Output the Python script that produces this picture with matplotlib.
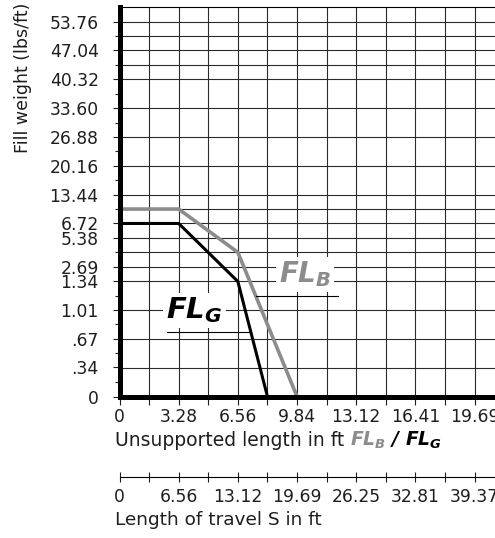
import numpy as np
import matplotlib
matplotlib.use("Agg")
import matplotlib.pyplot as plt

plt.rcParams["font.family"] = ["DejaVu Sans"]
plt.rcParams["mathtext.fontset"] = "custom"
plt.rcParams["mathtext.it"] = "DejaVu Sans:italic:bold"
plt.rcParams["mathtext.rm"] = "DejaVu Sans:italic:bold"
plt.rcParams["mathtext.bf"] = "DejaVu Sans:italic:bold"

# ---- data -------------------------------------------------------------
length_b = [0, 3.28, 6.56, 9.84]          # unsupported length (ft), FL_B
fill_b = [10.08, 10.08, 4.03, 0]          # fill weight (lbs/ft), FL_B
length_g = [0, 3.28, 6.56, 8.20]          # unsupported length (ft), FL_G
fill_g = [6.72, 6.72, 1.34, 0]            # fill weight (lbs/ft), FL_G

y_tick_values = [0, 0.34, 0.67, 1.01, 1.34, 2.69, 5.38, 6.72,
                 13.44, 20.16, 26.88, 33.60, 40.32, 47.04, 53.76]
y_tick_labels = ["0", ".34", ".67", "1.01", "1.34", "2.69", "5.38", "6.72",
                 "13.44", "20.16", "26.88", "33.60", "40.32", "47.04", "53.76"]
x_tick_labels = ["0", "3.28", "6.56", "9.84", "13.12", "16.41", "19.69"]
travel_tick_labels = ["0", "6.56", "13.12", "19.69", "26.25", "32.81", "39.37"]

GRAY = "#8c8c8c"
INK = "#1e1e1e"
FT_PER_M = 3.2808

# ---- piecewise-linear fill weight scale --------------------------------
scale_vals = np.array([0.0, 1.344, 6.72, 53.76, 57.12])
scale_rows = np.array([0.0, 8.0, 12.0, 26.0, 27.0])


def fwd(v):
    return np.interp(v, scale_vals, scale_rows)


def inv(r):
    return np.interp(r, scale_rows, scale_vals)


W, H = 495, 538
fig = plt.figure(figsize=(W / 100, H / 100), dpi=100)

x_max = 21.6
px_per_ft = 18.04
left_px, bottom_px, top_px = 119.5, 396.5, 7.2
ax = fig.add_axes([left_px / W, 1 - bottom_px / H,
                   x_max * px_per_ft / W, (bottom_px - top_px) / H])
ax.set_yscale("function", functions=(fwd, inv))
ax.set_xlim(0, x_max)
ax.set_ylim(0, 57.12)

# grid
grid_rows = [0, 2, 4, 6, 8, 9, 10, 11, 12, 13, 14, 16, 18, 20, 22, 23, 24, 25, 26]
for r in grid_rows:
    ax.axhline(inv(r), color="#2a2a2a", lw=0.8, zorder=1)
x_grid = np.arange(1, 14) * 0.5 * FT_PER_M
for xv in x_grid:
    ax.axvline(xv, color="#2a2a2a", lw=0.8, zorder=1)

# curves
ax.plot(length_b, fill_b, color=GRAY, lw=2.6, zorder=3, solid_joinstyle="miter")
ax.plot(length_g, fill_g, color="black", lw=2.2, zorder=3.1, solid_joinstyle="miter")

# curve labels with underline leaders
rows_b = fwd(np.array(fill_b))
rows_g = fwd(np.array(fill_g))
ub_row, ug_row = 7.0, 4.5
ub_x0 = np.interp(ub_row, rows_b[::-1], np.array(length_b)[::-1])
ug_x1 = np.interp(ug_row, rows_g[::-1], np.array(length_g)[::-1])
ax.plot([ub_x0, 12.1], [inv(ub_row)] * 2, color="black", lw=0.8, zorder=3)
ax.plot([2.63, ug_x1], [inv(ug_row)] * 2, color="black", lw=0.8, zorder=3)
ax.text(8.85, inv(7.9), r"$FL_B$", color=GRAY, fontsize=20, ha="left",
        va="baseline", zorder=4,
        bbox=dict(facecolor="white", edgecolor="none", pad=2))
ax.text(2.6, inv(5.4), r"$FL_G$", color="black", fontsize=21, ha="left",
        va="baseline", zorder=4,
        bbox=dict(facecolor="white", edgecolor="none", pad=2))

# spines
for s in ("left", "bottom"):
    ax.spines[s].set_linewidth(3.6)
    ax.spines[s].set_color("black")
    ax.spines[s].set_zorder(5)
ax.spines["top"].set_linewidth(0.8)
ax.spines["right"].set_visible(False)

# y ticks
ax.set_yticks(y_tick_values, y_tick_labels)
minor_rows = [1, 3, 5, 7, 10, 13, 15, 17, 19, 21, 23, 25]
ax.set_yticks(inv(np.array(minor_rows, dtype=float)), minor=True)
ax.tick_params(axis="y", which="major", direction="out", length=5, width=0.8,
               pad=10, labelsize=12.3, colors=INK)
ax.tick_params(axis="y", which="minor", direction="out", length=3.5, width=0.8,
               colors=INK)

# x ticks
x_ticks = np.arange(0, 14) * 0.5 * FT_PER_M
x_labels = [x_tick_labels[i // 2] if i % 2 == 0 and i // 2 < len(x_tick_labels) else ""
            for i in range(len(x_ticks))]
ax.set_xticks(x_ticks, x_labels)
ax.tick_params(axis="x", direction="out", length=5.5, width=0.8, pad=3,
               labelsize=12.3, colors=INK)

# travel length axis (S = 2 x unsupported length)
sec = ax.secondary_xaxis(-(477.3 - bottom_px) / (bottom_px - top_px),
                         functions=(lambda x: 2 * x, lambda s: s / 2))
s_ticks = np.arange(0, 14) * FT_PER_M
s_labels = [travel_tick_labels[i // 2] if i % 2 == 0 and i // 2 < len(travel_tick_labels) else ""
            for i in range(len(s_ticks))]
sec.set_xticks(s_ticks, s_labels)
sec.spines["bottom"].set_linewidth(0.8)
sec.tick_params(axis="x", direction="inout", length=7, width=0.8, pad=4.5,
                labelsize=12.3, colors=INK)

# axis titles
def fx(px):
    return px / W


def fy(py):
    return 1 - py / H


fig.text(fx(23), fy(3), "Fill weight (lbs/ft)", rotation=90, ha="center",
         va="top", fontsize=12.5, color=INK)
t0 = fig.text(fx(115), fy(446), "Unsupported length in ft", ha="left",
              va="baseline", fontsize=13.5, color=INK)
t1 = ax.annotate(r"$FL_B$", xy=(1, fy(446)), xycoords=(t0, "figure fraction"),
                 xytext=(4, 0), textcoords="offset points", ha="left",
                 va="baseline", fontsize=13.5, color=GRAY, annotation_clip=False)
t2 = ax.annotate(r"$/\ FL_G$", xy=(1, fy(446)), xycoords=(t1, "figure fraction"),
                 xytext=(3, 0), textcoords="offset points", ha="left",
                 va="baseline", fontsize=13.5, color="black", annotation_clip=False)
fig.text(fx(115), fy(525), "Length of travel S in ft", ha="left",
         va="baseline", fontsize=13.3, color=INK)

fig.savefig("out.png", dpi=100)
